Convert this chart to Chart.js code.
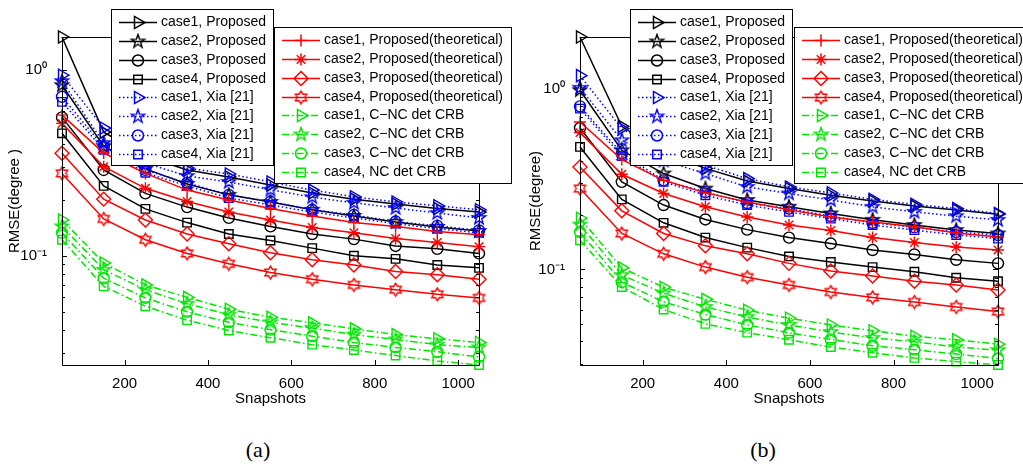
<!DOCTYPE html>
<html>
<head>
<meta charset="utf-8">
<script src="https://cdn.jsdelivr.net/npm/chart.js@4.4.1/dist/chart.umd.min.js"></script>
<style>
  body { margin: 0; background: #fff; }
  #wrap { position: relative; width: 1023px; height: 475px; overflow: hidden; }
  canvas { position: absolute; top: 0; }
  .cap { position: absolute; top: 439px; transform: translateX(-50%);
         font: 22px/22px "Liberation Serif", "DejaVu Serif", serif; color: #000; }
</style>
</head>
<body>
<div id="wrap">
  <canvas id="chartA" width="512" height="425" style="left:0"></canvas>
  <canvas id="chartB" width="511" height="425" style="left:512px"></canvas>
  <div class="cap" style="left:258px">(a)</div>
  <div class="cap" style="left:763px">(b)</div>
</div>
<script>
// x values and tick labels
const snapshots = [50, 150, 250, 350, 450, 550, 650, 750, 850, 950, 1050];
const xTicks = [200, 400, 600, 800, 1000];
const yMajor = [0.1, 1];
const yMajorLabels = ['10\u207B\u00B9', '10\u2070'];

const labelsProposed = ['case1, Proposed', 'case2, Proposed', 'case3, Proposed', 'case4, Proposed'];
const labelsXia = ['case1, Xia [21]', 'case2, Xia [21]', 'case3, Xia [21]', 'case4, Xia [21]'];
const labelsTheory = ['case1, Proposed(theoretical)', 'case2, Proposed(theoretical)',
  'case3, Proposed(theoretical)', 'case4, Proposed(theoretical)'];
const labelsCrb = ['case1, C\u2212NC det CRB', 'case2, C\u2212NC det CRB', 'case3, C\u2212NC det CRB', 'case4, NC det CRB'];

// plot (a)
const aProposed1 = [1.51, 0.464, 0.345, 0.290, 0.266, 0.241, 0.218, 0.202, 0.190, 0.180, 0.172];
const aProposed2 = [0.830, 0.390, 0.294, 0.244, 0.213, 0.195, 0.177, 0.164, 0.152, 0.143, 0.136];
const aProposed3 = [0.557, 0.290, 0.217, 0.183, 0.160, 0.144, 0.131, 0.123, 0.113, 0.109, 0.103];
const aProposed4 = [0.457, 0.238, 0.179, 0.151, 0.131, 0.121, 0.110, 0.100, 0.0963, 0.0892, 0.0861];
const aXia1 = [0.94, 0.488, 0.360, 0.297, 0.276, 0.250, 0.226, 0.208, 0.195, 0.186, 0.177];
const aXia2 = [0.873, 0.405, 0.316, 0.269, 0.250, 0.227, 0.207, 0.193, 0.181, 0.170, 0.160];
const aXia3 = [0.719, 0.386, 0.290, 0.247, 0.213, 0.196, 0.177, 0.166, 0.153, 0.145, 0.137];
const aXia4 = [0.675, 0.372, 0.280, 0.238, 0.205, 0.188, 0.172, 0.160, 0.149, 0.140, 0.133];
const aTheory1 = [0.573, 0.358, 0.278, 0.226, 0.200, 0.180, 0.164, 0.151, 0.144, 0.135, 0.130];
const aTheory2 = [0.517, 0.302, 0.231, 0.196, 0.172, 0.156, 0.142, 0.133, 0.124, 0.118, 0.112];
const aTheory3 = [0.357, 0.202, 0.156, 0.131, 0.116, 0.104, 0.0952, 0.0892, 0.0822, 0.0790, 0.0748];
const aTheory4 = [0.278, 0.158, 0.122, 0.103, 0.0906, 0.0812, 0.0748, 0.0697, 0.0657, 0.0620, 0.0593];
const aCrb1 = [0.156, 0.0915, 0.0697, 0.0597, 0.0515, 0.0467, 0.0435, 0.0404, 0.0376, 0.0357, 0.0341];
const aCrb2 = [0.144, 0.0841, 0.0657, 0.0552, 0.0481, 0.0438, 0.0408, 0.0376, 0.0354, 0.0332, 0.0321];
const aCrb3 = [0.133, 0.0757, 0.0593, 0.0499, 0.0438, 0.0400, 0.0369, 0.0341, 0.0321, 0.0304, 0.0285];
const aCrb4 = [0.122, 0.0684, 0.0535, 0.0450, 0.0396, 0.0362, 0.0332, 0.0311, 0.0290, 0.0271, 0.0258];

// plot (b)
const bProposed1 = [1.93, 0.619, 0.440, 0.362, 0.308, 0.280, 0.257, 0.239, 0.224, 0.213, 0.202];
const bProposed2 = [0.980, 0.456, 0.339, 0.280, 0.242, 0.222, 0.204, 0.188, 0.176, 0.165, 0.158];
const bProposed3 = [0.606, 0.305, 0.227, 0.189, 0.166, 0.150, 0.139, 0.128, 0.121, 0.113, 0.108];
const bProposed4 = [0.476, 0.244, 0.181, 0.150, 0.132, 0.118, 0.110, 0.103, 0.097, 0.090, 0.086];
const bXia1 = [1.18, 0.601, 0.450, 0.377, 0.318, 0.286, 0.265, 0.244, 0.229, 0.217, 0.204];
const bXia2 = [1.01, 0.518, 0.400, 0.339, 0.286, 0.263, 0.242, 0.222, 0.208, 0.197, 0.188];
const bXia3 = [0.798, 0.438, 0.311, 0.268, 0.233, 0.217, 0.197, 0.181, 0.171, 0.161, 0.155];
const bXia4 = [0.775, 0.423, 0.305, 0.257, 0.227, 0.208, 0.191, 0.176, 0.165, 0.155, 0.148];
const bTheory1 = [0.654, 0.405, 0.311, 0.265, 0.236, 0.214, 0.195, 0.183, 0.172, 0.159, 0.151];
const bTheory2 = [0.571, 0.336, 0.263, 0.222, 0.195, 0.176, 0.164, 0.150, 0.141, 0.133, 0.128];
const bTheory3 = [0.369, 0.211, 0.158, 0.135, 0.122, 0.108, 0.098, 0.092, 0.086, 0.082, 0.077];
const bTheory4 = [0.280, 0.158, 0.122, 0.103, 0.0906, 0.082, 0.075, 0.070, 0.066, 0.062, 0.0585];
const bCrb1 = [0.192, 0.102, 0.0797, 0.0683, 0.0595, 0.0537, 0.0493, 0.0458, 0.0427, 0.0408, 0.0386];
const bCrb2 = [0.177, 0.093, 0.0738, 0.0620, 0.0545, 0.0493, 0.0451, 0.0418, 0.0398, 0.0372, 0.0358];
const bCrb3 = [0.161, 0.085, 0.0662, 0.0563, 0.0493, 0.0446, 0.0410, 0.0378, 0.0360, 0.0340, 0.0322];
const bCrb4 = [0.145, 0.080, 0.0600, 0.0500, 0.0447, 0.0408, 0.0372, 0.0346, 0.0324, 0.0309, 0.0296];

const FONT = '"Liberation Sans", Arial, Helvetica, sans-serif';
Chart.defaults.font.family = FONT;
Chart.defaults.color = '#000';

const BLACK = '#000000', BLUE = '#0000ff', RED = '#ff0000', GREEN = '#00e600';
const DOTTED = [1.5, 2.5], DASHDOT = [7, 3, 1.5, 3];
const LINE_W = 1.5, MARK_W = 1.4;

// outline star (pentagram / hexagram) like the matlab markers
function starImage(points, outer, inner, color) {
  const size = Math.ceil(outer * 2 + 4);
  const c = document.createElement('canvas');
  c.width = size; c.height = size;
  const g = c.getContext('2d');
  g.strokeStyle = color;
  g.lineWidth = MARK_W;
  g.beginPath();
  for (let i = 0; i < points * 2; i++) {
    const r = i % 2 ? inner : outer;
    const ang = -Math.PI / 2 + i * Math.PI / points;
    const px = size / 2 + r * Math.cos(ang), py = size / 2 + r * Math.sin(ang);
    if (i === 0) g.moveTo(px, py); else g.lineTo(px, py);
  }
  g.closePath();
  g.stroke();
  return c;
}

const penta = {};
[BLACK, BLUE, GREEN].forEach(c => { penta[c] = starImage(5, 7, 2.8, c); });
const hexa = starImage(6, 6.5, 3.8, RED);

function markerSet(color) {
  return [
    { style: 'triangle', rotation: 90, radius: 7 },
    { style: penta[color], rotation: 0, radius: 7 },
    { style: 'circle', rotation: 0, radius: 5.5 },
    { style: 'rect', rotation: 0, radius: 6 }
  ];
}
const theoryMarkers = [
  { style: 'cross', rotation: 0, radius: 6 },
  { style: 'star', rotation: 0, radius: 6 },
  { style: 'rectRot', rotation: 0, radius: 7 },
  { style: hexa, rotation: 0, radius: 7 }
];

function series(label, values, color, dash, marker, order) {
  return {
    label: label,
    order: order,
    data: snapshots.map((s, i) => ({ x: s, y: values[i] })),
    borderColor: color,
    borderWidth: LINE_W,
    borderDash: dash,
    pointStyle: marker.style,
    pointRotation: marker.rotation,
    pointRadius: marker.radius,
    pointBorderColor: color,
    pointBackgroundColor: 'rgba(0,0,0,0)',
    pointBorderWidth: MARK_W,
    fill: false,
    tension: 0,
    clip: false
  };
}

function buildSets(proposed, xia, theory, crb) {
  const sets = [];
  proposed.forEach((v, i) => sets.push(series(labelsProposed[i], v, BLACK, [], markerSet(BLACK)[i], 2)));
  xia.forEach((v, i) => sets.push(series(labelsXia[i], v, BLUE, DOTTED, markerSet(BLUE)[i], 1)));
  theory.forEach((v, i) => sets.push(series(labelsTheory[i], v, RED, [], theoryMarkers[i], 0)));
  crb.forEach((v, i) => sets.push(series(labelsCrb[i], v, GREEN, DASHDOT, markerSet(GREEN)[i], 3)));
  return sets;
}

function logTicks(min, max) {
  const out = [];
  for (let d = Math.floor(Math.log10(min)); d <= Math.ceil(Math.log10(max)); d++) {
    for (let m = 1; m <= 9; m++) {
      const v = +(m * Math.pow(10, d)).toPrecision(6);
      if (v >= min && v <= max) out.push(v);
    }
  }
  return out;
}

// matlab style box, inward ticks and the two legend boxes
const matlabAxes = {
  id: 'matlabAxes',
  afterDatasetsDraw(chart) {
    const { ctx, chartArea: a, scales: { x, y } } = chart;
    ctx.save();
    ctx.strokeStyle = '#000';
    ctx.lineWidth = 1;
    ctx.setLineDash([]);
    ctx.beginPath();
    ctx.rect(a.left + 0.5, a.top + 0.5, a.right - a.left, a.bottom - a.top);
    x.ticks.forEach(t => {
      const px = Math.round(x.getPixelForValue(t.value)) + 0.5;
      ctx.moveTo(px, a.bottom); ctx.lineTo(px, a.bottom - 5);
      ctx.moveTo(px, a.top); ctx.lineTo(px, a.top + 5);
    });
    y.ticks.forEach(t => {
      const py = Math.round(y.getPixelForValue(t.value)) + 0.5;
      const len = t.label ? 5 : 3;
      ctx.moveTo(a.left, py); ctx.lineTo(a.left + len, py);
      ctx.moveTo(a.right, py); ctx.lineTo(a.right - len, py);
    });
    ctx.stroke();
    ctx.restore();
  },
  afterDraw(chart, args, opts) {
    const ctx = chart.ctx;
    opts.boxes.forEach(box => {
      ctx.save();
      ctx.fillStyle = '#fff';
      ctx.fillRect(box.x, box.y, box.w, box.h);
      ctx.strokeStyle = '#000';
      ctx.lineWidth = 1;
      ctx.strokeRect(box.x + 0.5, box.y + 0.5, box.w, box.h);
      box.items.forEach((idx, r) => {
        const ds = chart.data.datasets[idx];
        const cy = Math.round(box.y + 13 + r * 18.85) + 0.5;
        ctx.strokeStyle = ds.borderColor;
        ctx.lineWidth = ds.borderWidth;
        ctx.setLineDash(ds.borderDash);
        ctx.beginPath();
        ctx.moveTo(box.x + 8, cy);
        ctx.lineTo(box.x + 46, cy);
        ctx.stroke();
        ctx.setLineDash([]);
        ctx.fillStyle = 'rgba(0,0,0,0)';
        Chart.helpers.drawPoint(ctx, {
          pointStyle: ds.pointStyle, radius: ds.pointRadius,
          rotation: ds.pointRotation, borderWidth: ds.pointBorderWidth
        }, box.x + 27, cy);
        ctx.fillStyle = '#000';
        ctx.font = '14px ' + FONT;
        ctx.textBaseline = 'middle';
        ctx.textAlign = 'left';
        ctx.fillText(ds.label, box.x + 50, cy);
      });
      ctx.restore();
    });
  }
};

function makeChart(id, sets, yMin, yMax, axisLeft, padRight, yTitle, yTitlePad, boxes) {
  const canvas = document.getElementById(id);
  return new Chart(canvas.getContext('2d'), {
    type: 'line',
    data: { datasets: sets },
    options: {
      responsive: false,
      animation: false,
      events: [],
      layout: { padding: { left: 0, top: 37, right: padRight, bottom: 15 } },
      plugins: {
        legend: { display: false },
        tooltip: { enabled: false },
        matlabAxes: { boxes: boxes }
      },
      scales: {
        x: {
          type: 'linear', min: 50, max: 1050,
          grid: { display: false }, border: { display: false },
          afterBuildTicks: s => { s.ticks = xTicks.map(v => ({ value: v })); },
          afterFit: s => { s.height = 45; },
          ticks: { padding: 2, maxRotation: 0, color: '#000', font: { size: 15 },
                   callback: v => String(v) },
          title: { display: true, text: 'Snapshots', color: '#000', font: { size: 15 },
                   padding: { top: 0, bottom: 2 } }
        },
        y: {
          type: 'logarithmic', min: yMin, max: yMax,
          grid: { display: false }, border: { display: false },
          afterBuildTicks: s => { s.ticks = logTicks(yMin, yMax).map(v => ({ value: v })); },
          afterFit: s => { s.width = axisLeft; },
          ticks: {
            autoSkip: false, padding: 7, color: '#000', font: { size: 15 },
            callback: v => {
              const k = yMajor.findIndex(m => Math.abs(m - v) < 1e-9);
              return k >= 0 ? yMajorLabels[k] : '';
            }
          },
          title: { display: true, text: yTitle, color: '#000', font: { size: 15 },
                   padding: { top: yTitlePad, bottom: 0 } }
        }
      }
    },
    plugins: [matlabAxes]
  });
}

const leftItems = [0, 1, 2, 3, 4, 5, 6, 7];
const rightItems = [8, 9, 10, 11, 12, 13, 14, 15];

makeChart('chartA',
  buildSets([aProposed1, aProposed2, aProposed3, aProposed4], [aXia1, aXia2, aXia3, aXia4],
            [aTheory1, aTheory2, aTheory3, aTheory4], [aCrb1, aCrb2, aCrb3, aCrb4]),
  0.0258, 1.51, 62, 33, 'RMSE(degree )', 6,
  [{ x: 111, y: 9, w: 162, h: 156, items: leftItems },
   { x: 274, y: 27, w: 237, h: 156, items: rightItems }]);

makeChart('chartB',
  buildSets([bProposed1, bProposed2, bProposed3, bProposed4], [bXia1, bXia2, bXia3, bXia4],
            [bTheory1, bTheory2, bTheory3, bTheory4], [bCrb1, bCrb2, bCrb3, bCrb4]),
  0.0296, 1.93, 68, 25, 'RMSE(degree)', 15,
  [{ x: 118, y: 9, w: 162, h: 156, items: leftItems },
   { x: 282, y: 27, w: 240, h: 156, items: rightItems }]);
</script>
</body>
</html>
